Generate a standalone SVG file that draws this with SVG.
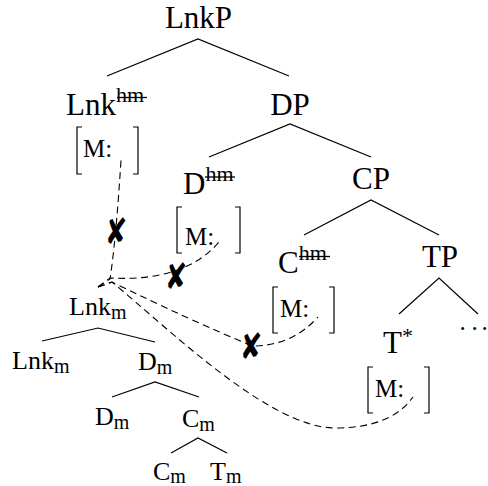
<svg xmlns="http://www.w3.org/2000/svg" width="488" height="486" viewBox="0 0 488 486">
<style>
  text { font-family: "Liberation Serif", "Times New Roman", serif; fill: #000; }
  .big { font-size: 31px; }
  .sup { font-size: 22px; }
  .feat { font-size: 25px; }
  .small { font-size: 26px; }
  .sub { font-size: 20px; }
  .dot { font-size: 25px; }
  .edge { stroke: #000; stroke-width: 1.2; fill: none; }
  .brk { stroke: #000; stroke-width: 1.2; fill: none; }
  .strike { stroke: #000; stroke-width: 1.3; }
  .dash { stroke: #000; stroke-width: 1.1; fill: none; stroke-dasharray: 7 4.5; }
  .x { font-family: "DejaVu Sans", sans-serif; font-size: 33px; text-anchor: middle; }
</style>
<rect width="488" height="486" fill="#fff"/>

<g id="connectors">
  <path class="edge" d="M107,76 L198,39 L289,76"/>
  <path class="edge" d="M209,157 L290,124 L371,157"/>
  <path class="edge" d="M304,235 L371,200 L439,235"/>
  <path class="edge" d="M399,314 L439,278 L478,314"/>
  <path class="edge" d="M42,341 L98,328 L155,342"/>
  <path class="edge" d="M112,397 L155,382 L199,397"/>
  <path class="edge" d="M171,453 L198,438 L227,453"/>
  <path class="dash" d="M98,287 L110,279 Q116,240 121,160"/>
  <path class="dash" d="M98,287 L110,278 Q185,282 219,242"/>
  <path class="dash" d="M98,287 L112,282 Q192,321 252,346 Q292,346 318,317"/>
  <path class="dash" d="M98,287 L112,282 C170,330 270,428 335,428 C372,428 398,418 413,397"/>
  <text class="x" transform="translate(116,231) scale(0.82,1.1)" x="0" y="12">✘</text>
  <text class="x" transform="translate(176,276) scale(0.82,1.1)" x="0" y="12">✘</text>
  <text class="x" transform="translate(251,346) scale(0.82,1.1)" x="0" y="12">✘</text>
</g>

<g id="LnkP"><text class="big" x="198.5" y="28" text-anchor="middle">LnkP</text></g>

<g id="Lnk_hm">
  <text class="big" x="66" y="115">Lnk<tspan class="sup" dy="-13">hm</tspan></text>
  <line class="strike" x1="117" y1="97.5" x2="147" y2="97.5"/>
  <path class="brk" d="M82,127 H77 V174 H82 M133,127 H138 V174 H133"/>
  <text class="feat" x="83" y="157">M:</text>
</g>

<g id="DP"><text class="big" x="290" y="115" text-anchor="middle">DP</text></g>

<g id="D_hm">
  <text class="big" x="183" y="194">D<tspan class="sup" dy="-13">hm</tspan></text>
  <line class="strike" x1="205" y1="177" x2="235" y2="177"/>
  <path class="brk" d="M182,207 H177 V253 H182 M235,207 H240 V253 H235"/>
  <text class="feat" x="185" y="245">M:</text>
</g>

<g id="CP"><text class="big" x="371" y="189" text-anchor="middle">CP</text></g>

<g id="C_hm">
  <text class="big" x="278" y="273">C<tspan class="sup" dy="-13">hm</tspan></text>
  <line class="strike" x1="299" y1="256.5" x2="330" y2="256.5"/>
  <path class="brk" d="M278,287 H273 V333 H278 M329,287 H334 V333 H329"/>
  <text class="feat" x="280" y="317">M:</text>
</g>

<g id="TP"><text class="big" x="440" y="267" text-anchor="middle">TP</text></g>

<g id="T_star">
  <text class="big" x="383" y="353">T<tspan class="sup" dy="-10">*</tspan></text>
  <path class="brk" d="M373,367 H368 V413 H373 M424,367 H429 V413 H424"/>
  <text class="feat" x="375" y="397">M:</text>
</g>

<g id="dots"><text class="dot" y="330"><tspan x="459.5">.</tspan><tspan x="471.5">.</tspan><tspan x="481.5">.</tspan></text></g>

<g id="Lnk_m_root"><text class="small" x="69" y="315">Lnk<tspan class="sub" dy="4">m</tspan></text></g>
<g id="Lnk_m_leaf"><text class="small" x="12" y="369">Lnk<tspan class="sub" dy="4">m</tspan></text></g>
<g id="D_m"><text class="small" x="138" y="370">D<tspan class="sub" dy="4">m</tspan></text></g>
<g id="D_m_leaf"><text class="small" x="95" y="425">D<tspan class="sub" dy="4">m</tspan></text></g>
<g id="C_m"><text class="small" x="182" y="427">C<tspan class="sub" dy="4">m</tspan></text></g>
<g id="C_m_leaf"><text class="small" x="153" y="480">C<tspan class="sub" dy="3">m</tspan></text></g>
<g id="T_m"><text class="small" x="210" y="480">T<tspan class="sub" dy="3">m</tspan></text></g>
</svg>
